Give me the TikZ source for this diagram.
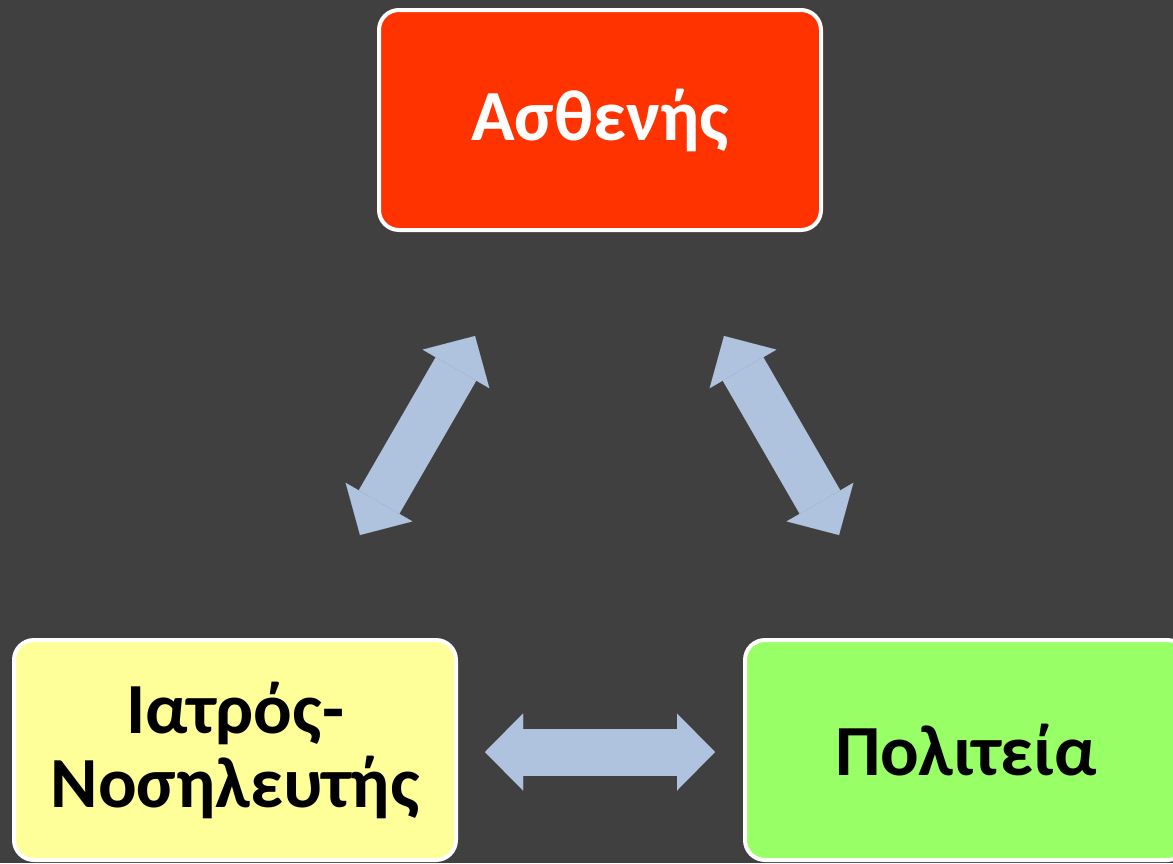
\documentclass[tikz,border=0pt]{standalone}
\usepackage{fontspec}
\setmainfont{Carlito}
\usetikzlibrary{arrows.meta}
\definecolor{bg}{HTML}{404040}
\definecolor{redbox}{HTML}{FF3300}
\definecolor{yellowbox}{HTML}{FFFF99}
\definecolor{greenbox}{HTML}{99FF66}
\definecolor{arrowblue}{HTML}{B0C3DE}
\tikzset{
  card/.style={draw=white, line width=4pt, rounded corners=20pt,
    minimum width=442pt, minimum height=220pt, inner sep=0pt, align=center,
    font=\fontsize{72}{74}\selectfont\bfseries},
  blockarrow/.style={draw=arrowblue, fill=arrowblue, line width=47pt, {Triangle[length=38pt, width=77pt, line width=0.01pt]}-{Triangle[length=38pt, width=77pt, line width=0.01pt]}}
}
\begin{document}
\begin{tikzpicture}[x=1pt, y=-1pt]
\useasboundingbox (0,0) rectangle (1173,863);
\clip (0,0) rectangle (1173,863);
\fill[bg] (0,0) rectangle (1173,863);

\node[card, fill=redbox, text=white] (patient) at (600,120) {Ασθενής};
\node[card, fill=yellowbox, text=black] (doctor) at (235,750) {Ιατρός-\\Νοσηλευτής};
\node[card, fill=greenbox, text=black] (state) at (966,750) {Πολιτεία};

\coordinate (la) at (360,535);
\coordinate (lb) at (475,336);
\coordinate (ra) at (724,336);
\coordinate (rb) at (839,535);
\coordinate (ha) at (485,752);
\coordinate (hb) at (715,752);

\draw[blockarrow] (la) -- (lb);
\draw[blockarrow] (ra) -- (rb);
\draw[blockarrow] (ha) -- (hb);
\end{tikzpicture}
\end{document}
